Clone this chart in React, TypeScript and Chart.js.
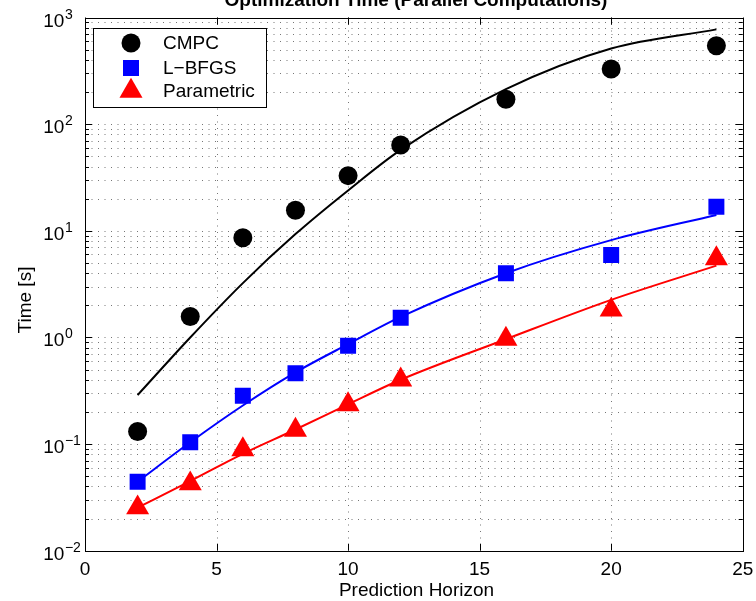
import React, { useEffect, useRef } from "react";
import { Chart, registerables } from "chart.js";

Chart.register(...registerables);

// ---- data ----
const horizons = [2, 4, 6, 8, 10, 12, 16, 20, 24];
const cmpcTimes = [0.131, 1.57, 8.6, 15.6, 32.9, 63.8, 171, 329, 544];
const lbfgsTimes = [0.0444, 0.104, 0.284, 0.461, 0.837, 1.53, 3.99, 5.93, 16.8];
const parametricTimes = [0.0253, 0.0425, 0.0887, 0.1355, 0.235, 0.4, 0.966, 1.81, 5.48];
const cmpcFit = [0.288, 0.998, 3.23, 9.31, 23.9, 57.4, 213, 512, 774];
const lbfgsFit = [0.0444, 0.104, 0.23, 0.47, 0.865, 1.556, 4.0, 8.17, 14.06];
const parametricFit = [0.0253, 0.045, 0.081, 0.137, 0.236, 0.401, 0.962, 2.25, 4.71];

const seriesNames = ["CMPC", "L\u2212BFGS", "Parametric"];
const seriesColors = ["#000000", "#0000ff", "#ff0000"];
const xTickValues = [0, 5, 10, 15, 20, 25];
const yTickExponents = [-2, -1, 0, 1, 2, 3];

const titleText = "Optimization Time (Parallel Computations)";
const xLabel = "Prediction Horizon";
const yLabel = "Time [s]";

const FONT = "'Liberation Sans', Arial, Helvetica, sans-serif";

const pts = (ys: number[]) => horizons.map((x, i) => ({ x, y: ys[i] }));

function drawMarker(ctx: CanvasRenderingContext2D, style: string, r: number, x: number, y: number) {
  ctx.beginPath();
  if (style === "circle") {
    ctx.arc(x, y, r, 0, Math.PI * 2);
  } else if (style === "rect") {
    const s = r * Math.SQRT1_2;
    ctx.rect(x - s, y - s, 2 * s, 2 * s);
  } else {
    ctx.moveTo(x, y - r);
    ctx.lineTo(x + r * Math.sin(Math.PI / 3), y + r * 0.5);
    ctx.lineTo(x - r * Math.sin(Math.PI / 3), y + r * 0.5);
    ctx.closePath();
  }
  ctx.fill();
}

const decorPlugin = {
  id: "decor",
  beforeDatasetsDraw(chart: any) {
    const { ctx, chartArea: a, scales } = chart;
    const xs = scales.x;
    const ys = scales.y;
    ctx.save();
    ctx.strokeStyle = "rgba(60,60,60,0.7)";
    ctx.lineWidth = 1;
    ctx.setLineDash([1, 5.5]);
    for (let e = -2; e < 3; e++) {
      for (let m = 1; m <= 9; m++) {
        if (e === -2 && m === 1) continue;
        const v = m * Math.pow(10, e);
        const y = Math.round(ys.getPixelForValue(v)) + 0.5;
        ctx.beginPath();
        ctx.moveTo(a.left, y);
        ctx.lineTo(a.right, y);
        ctx.stroke();
      }
    }
    for (const v of xTickValues) {
      if (v === 0 || v === 25) continue;
      const x = Math.round(xs.getPixelForValue(v)) + 0.5;
      ctx.beginPath();
      ctx.moveTo(x, a.top);
      ctx.lineTo(x, a.bottom);
      ctx.stroke();
    }
    ctx.restore();
  },
  afterDatasetsDraw(chart: any) {
    const { ctx, chartArea: a, scales } = chart;
    const xs = scales.x;
    const ys = scales.y;
    ctx.save();
    ctx.setLineDash([]);
    ctx.strokeStyle = "#000";
    ctx.lineWidth = 1;
    for (let e = -2; e <= 3; e++) {
      for (let m = 1; m <= 9; m++) {
        if (e === 3 && m > 1) break;
        const v = m * Math.pow(10, e);
        const y = Math.round(ys.getPixelForValue(v)) + 0.5;
        const len = m === 1 ? 7 : 4;
        ctx.beginPath();
        ctx.moveTo(a.left, y);
        ctx.lineTo(a.left + len, y);
        ctx.moveTo(a.right, y);
        ctx.lineTo(a.right - len, y);
        ctx.stroke();
      }
    }
    for (const v of xTickValues) {
      const x = Math.round(xs.getPixelForValue(v)) + 0.5;
      ctx.beginPath();
      ctx.moveTo(x, a.bottom);
      ctx.lineTo(x, a.bottom - 7);
      ctx.moveTo(x, a.top);
      ctx.lineTo(x, a.top + 7);
      ctx.stroke();
    }
    ctx.strokeRect(Math.round(a.left) + 0.5, Math.round(a.top) + 0.5, Math.round(a.right - a.left), Math.round(a.bottom - a.top));

    ctx.fillStyle = "#000";
    ctx.font = `19px ${FONT}`;
    ctx.textAlign = "center";
    ctx.textBaseline = "alphabetic";
    for (const v of xTickValues) {
      ctx.fillText(String(v), xs.getPixelForValue(v), a.bottom + 24.5);
    }
    for (const e of yTickExponents) {
      const y = ys.getPixelForValue(Math.pow(10, e));
      ctx.textAlign = "left";
      ctx.font = `19px ${FONT}`;
      ctx.fillText("10", 43.3, y + 9);
      const w = ctx.measureText("10").width;
      ctx.font = `14px ${FONT}`;
      ctx.fillText(e < 0 ? "\u2212" + Math.abs(e) : String(e), 43.3 + w + 0.5, y + 1);
    }
    ctx.font = `19px ${FONT}`;
    ctx.textAlign = "center";
    ctx.fillText(xLabel, 416.5, 595.5);
    ctx.save();
    ctx.translate(31, 300);
    ctx.rotate(-Math.PI / 2);
    ctx.fillText(yLabel, 0, 0);
    ctx.restore();
    ctx.font = `bold 19px ${FONT}`;
    ctx.fillText(titleText, 416, 6);

    // legend
    const lx = 93.5, ly = 28.5, lw = 173, lh = 79;
    ctx.fillStyle = "#fff";
    ctx.fillRect(lx, ly, lw, lh);
    ctx.strokeStyle = "#000";
    ctx.strokeRect(lx, ly, lw, lh);
    const rows = [43, 68, 91];
    const markerDs = chart.data.datasets.filter((d: any) => d.isMarker);
    markerDs.forEach((d: any, i: number) => {
      ctx.fillStyle = d.backgroundColor;
      drawMarker(ctx, d.pointStyle, d.pointRadius, 131, rows[i]);
      ctx.fillStyle = "#000";
      ctx.font = `19px ${FONT}`;
      ctx.textAlign = "left";
      ctx.textBaseline = "middle";
      ctx.fillText(d.label, 163, rows[i] + 1);
    });
    ctx.restore();
  },
};

export default function App() {
  const ref = useRef<HTMLCanvasElement | null>(null);
  useEffect(() => {
    if (!ref.current) return;
    const styles = ["circle", "rect", "triangle"];
    const radii = [9.5, 11.3, 13.3];
    const markerSets = [cmpcTimes, lbfgsTimes, parametricTimes];
    const fitSets = [cmpcFit, lbfgsFit, parametricFit];
    const datasets: any[] = [];
    fitSets.forEach((f, i) => {
      datasets.push({
        type: "line",
        label: seriesNames[i] + " fit",
        data: pts(f),
        borderColor: seriesColors[i],
        backgroundColor: seriesColors[i],
        borderWidth: 2,
        pointRadius: 0,
        cubicInterpolationMode: "monotone",
        fill: false,
        order: 2,
      });
    });
    markerSets.forEach((m, i) => {
      datasets.push({
        type: "scatter",
        label: seriesNames[i],
        isMarker: true,
        data: pts(m),
        showLine: false,
        pointStyle: styles[i],
        pointRadius: radii[i],
        pointBorderWidth: 0,
        borderWidth: 0,
        borderColor: seriesColors[i],
        backgroundColor: seriesColors[i],
        order: 1,
      });
    });
    const chart = new Chart(ref.current, {
      type: "scatter",
      data: { datasets },
      options: {
        responsive: false,
        maintainAspectRatio: false,
        animation: false,
        layout: { padding: { left: 85, right: 12.5, top: 17.5, bottom: 50.3 } },
        plugins: { legend: { display: false }, title: { display: false }, tooltip: { enabled: false } },
        scales: {
          x: { type: "linear", min: 0, max: 25, display: false },
          y: { type: "logarithmic", min: 0.01, max: 1000, display: false },
        },
      } as any,
      plugins: [decorPlugin],
    });
    return () => chart.destroy();
  }, []);
  return (
    <div style={{ position: "absolute", left: 0, top: 0, width: 756, height: 601, background: "#fff" }}>
      <canvas ref={ref} width={756} height={601} style={{ display: "block" }} />
    </div>
  );
}
